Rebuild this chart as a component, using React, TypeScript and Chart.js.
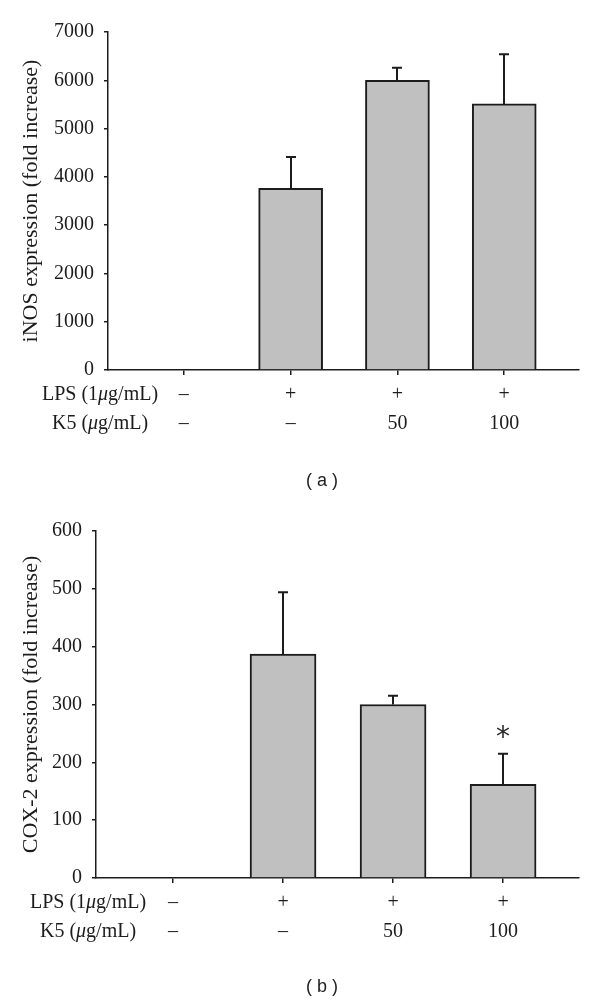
import React, { useEffect, useRef } from "react";
import { Chart, registerables } from "chart.js";

Chart.register(...registerables);

// ---- data ----
const CATEGORIES = ["control", "LPS", "LPS+K5 50", "LPS+K5 100"];
const LPS_ROW = ["–", "+", "+", "+"];
const K5_ROW = ["–", "–", "50", "100"];

const INOS_VALUES = [0, 3760, 6000, 5510];
const INOS_ERRORS = [0, 650, 260, 1030];

const COX2_VALUES = [0, 387, 300, 162];
const COX2_ERRORS = [0, 107, 15, 53];
const COX2_SIGNIFICANT = [false, false, false, true];

const INOS_TICKS = { max: 7000, step: 1000 };
const COX2_TICKS = { max: 600, step: 100 };

const SERIF = "'Liberation Serif', 'Times New Roman', serif";
const SANS = "'Liberation Sans', Arial, sans-serif";
const INK = "#1c1c1c";

type PanelCfg = {
  height: number;
  top: number;
  axisLeft: number;
  plotTop: number;
  plotBottom: number;
  xMin: number;
  xMax: number;
  barThickness: number;
  values: number[];
  errors: number[];
  significant?: boolean[];
  yMax: number;
  yStep: number;
  title: string;
  panel: string;
  panelY: number;
};

function drawRich(
  ctx: CanvasRenderingContext2D,
  parts: { t: string; italic?: boolean }[],
  cx: number,
  y: number,
  size: number
) {
  const fontFor = (it?: boolean) => `${it ? "italic " : ""}${size}px ${SERIF}`;
  let total = 0;
  const widths = parts.map((p) => {
    ctx.font = fontFor(p.italic);
    const w = ctx.measureText(p.t).width;
    total += w;
    return w;
  });
  let x = cx - total / 2;
  ctx.textAlign = "left";
  ctx.textBaseline = "middle";
  parts.forEach((p, i) => {
    ctx.font = fontFor(p.italic);
    ctx.fillText(p.t, x, y);
    x += widths[i];
  });
}

function Panel({ cfg }: { cfg: PanelCfg }) {
  const ref = useRef<HTMLCanvasElement | null>(null);
  useEffect(() => {
    if (!ref.current) return;
    const tickLen = 5;
    const tickPad = 5;
    const lineH = 29;
    const extras = {
      id: "extras",
      afterDatasetsDraw(chart: any) {
        const ctx: CanvasRenderingContext2D = chart.ctx;
        const yScale = chart.scales.y;
        const meta = chart.getDatasetMeta(0);
        ctx.save();
        ctx.strokeStyle = INK;
        ctx.lineWidth = 2;
        meta.data.forEach((el: any, i: number) => {
          const e = cfg.errors[i];
          if (e) {
            const x = Math.round(el.x);
            const yTop = yScale.getPixelForValue(cfg.values[i]);
            const yErr = yScale.getPixelForValue(cfg.values[i] + e);
            ctx.beginPath();
            ctx.moveTo(x, yTop);
            ctx.lineTo(x, yErr);
            ctx.moveTo(x - 5, yErr);
            ctx.lineTo(x + 5, yErr);
            ctx.stroke();
          }
          if (cfg.significant && cfg.significant[i]) {
            const yErr = yScale.getPixelForValue(cfg.values[i] + e);
            ctx.fillStyle = "#2a2a2a";
            ctx.font = `28px 'DejaVu Sans', sans-serif`;
            ctx.textAlign = "center";
            ctx.textBaseline = "alphabetic";
            const m = ctx.measureText("*");
            const asc = m.actualBoundingBoxAscent;
            const desc = m.actualBoundingBoxDescent;
            const centerY = yErr - 21.5;
            ctx.fillText("*", el.x, centerY + (asc - desc) / 2);
          }
        });
        ctx.restore();
      },
      afterDraw(chart: any) {
        const ctx: CanvasRenderingContext2D = chart.ctx;
        const area = chart.chartArea;
        ctx.save();
        ctx.fillStyle = INK;
        const y1 = area.bottom + tickLen + tickPad + lineH / 2;
        const y2 = y1 + lineH;
        const cx = area.left - 8;
        drawRich(ctx, [{ t: "LPS (1" }, { t: "μ", italic: true }, { t: "g/mL)" }], cx, y1, 20);
        drawRich(ctx, [{ t: "K5 (" }, { t: "μ", italic: true }, { t: "g/mL)" }], cx, y2, 20);
        ctx.font = `18px ${SANS}`;
        ctx.textAlign = "center";
        ctx.textBaseline = "middle";
        ctx.fillStyle = "#222";
        ctx.fillText(cfg.panel, 322, cfg.panelY);
        ctx.restore();
      },
    };

    const chart = new Chart(ref.current, {
      type: "bar",
      data: {
        datasets: [
          {
            label: "expression",
            data: cfg.values.map((v, i) => ({ x: i, y: v })),
            backgroundColor: "#c0c0c0",
            borderColor: INK,
            borderWidth: 2,
            borderSkipped: "start",
            barThickness: cfg.barThickness,
          },
        ],
      },
      options: {
        responsive: false,
        animation: false,
        events: [],
        layout: {
          padding: { top: cfg.plotTop, right: 600 - 579, left: 0, bottom: 0 },
        },
        plugins: {
          legend: { display: false },
          tooltip: { enabled: false },
        },
        scales: {
          x: {
            type: "linear",
            offset: false,
            bounds: "ticks",
            grace: 0,
            min: cfg.xMin,
            max: cfg.xMax,
            afterBuildTicks: (s: any) => {
              s.ticks = CATEGORIES.map((_, i) => ({ value: i }));
            },
            afterFit: (s: any) => {
              s.height = cfg.height - cfg.plotBottom;
            },
            ticks: {
              autoSkip: false,
              maxRotation: 0,
              padding: tickPad,
              color: INK,
              font: { family: SERIF, size: 20, lineHeight: lineH / 20 },
              callback: (v: any) => [LPS_ROW[v], K5_ROW[v]],
            },
            grid: {
              drawOnChartArea: false,
              offset: false,
              tickLength: tickLen,
              color: INK,
              lineWidth: 1.5,
            },
            border: { color: INK, width: 1.5 },
          },
          y: {
            min: 0,
            max: cfg.yMax,
            afterFit: (s: any) => {
              s.width = cfg.axisLeft;
            },
            ticks: {
              stepSize: cfg.yStep,
              padding: 10,
              color: INK,
              font: { family: SERIF, size: 20 },
              callback: (v: any) => String(v),
            },
            grid: {
              drawOnChartArea: false,
              tickLength: 4,
              color: INK,
              lineWidth: 1.5,
            },
            border: { color: INK, width: 1.5 },
            title: {
              display: true,
              text: cfg.title,
              color: INK,
              font: { family: SERIF, size: 22 },
              padding: { top: 18, bottom: 0 },
            },
          },
        },
      },
      plugins: [extras],
    } as any);
    return () => chart.destroy();
  }, [cfg]);

  return (
    <canvas
      ref={ref}
      width={600}
      height={cfg.height}
      style={{ position: "absolute", left: 0, top: cfg.top, width: 600, height: cfg.height }}
    />
  );
}

const PANEL_A: PanelCfg = {
  height: 500,
  top: 0,
  axisLeft: 108,
  plotTop: 32,
  plotBottom: 370,
  xMin: -0.71,
  xMax: 3.7,
  barThickness: 64,
  values: INOS_VALUES,
  errors: INOS_ERRORS,
  yMax: INOS_TICKS.max,
  yStep: INOS_TICKS.step,
  title: "iNOS expression (fold increase)",
  panel: "( a )",
  panelY: 481,
};

const PANEL_B: PanelCfg = {
  height: 507,
  top: 500,
  axisLeft: 96,
  plotTop: 31,
  plotBottom: 378,
  xMin: -0.7,
  xMax: 3.69,
  barThickness: 66,
  values: COX2_VALUES,
  errors: COX2_ERRORS,
  significant: COX2_SIGNIFICANT,
  yMax: COX2_TICKS.max,
  yStep: COX2_TICKS.step,
  title: "COX-2 expression (fold increase)",
  panel: "( b )",
  panelY: 487,
};

export default function App() {
  return (
    <div style={{ position: "absolute", left: 0, top: 0, width: 600, height: 1007, background: "#fff" }}>
      <Panel cfg={PANEL_A} />
      <Panel cfg={PANEL_B} />
    </div>
  );
}
